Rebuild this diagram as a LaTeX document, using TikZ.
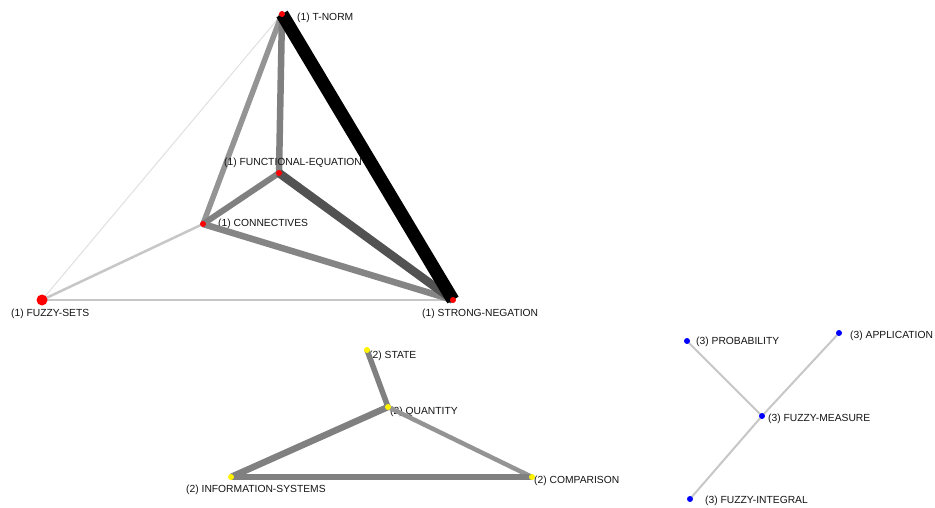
\documentclass[tikz,border=0pt]{standalone}
\usepackage{fontspec}
\setmainfont{Liberation Sans}
\begin{document}
\begin{tikzpicture}[x=1pt,y=-1pt,
  lbl/.style={anchor=west,inner sep=0pt,font=\fontsize{10.3}{11}\selectfont,text=black!92},
  dot/.style={circle,inner sep=0pt,minimum size=6pt},
  reddot/.style={dot,fill=red},
  yeldot/.style={dot,fill=yellow},
  bluedot/.style={dot,fill=blue},
  edge/.style={line cap=butt}
]
\useasboundingbox (0,0) rectangle (935,508);
\fill[white] (0,0) rectangle (935,508);
% labels
\node[lbl] (lTN) at (297,18) {(1) T-NORM};
\node[lbl] (lCO) at (218,224) {(1) CONNECTIVES};
\node[lbl] (lFS) at (11,314) {(1) FUZZY-SETS};
\node[lbl] (lSN) at (422,314) {(1) STRONG-NEGATION};
\node[lbl] (lST) at (369,356) {(2) STATE};
\node[lbl] (lQU) at (390,412) {(2) QUANTITY};
\node[lbl] (lIS) at (186,490) {(2) INFORMATION-SYSTEMS};
\node[lbl] (lCM) at (534,481) {(2) COMPARISON};
\node[lbl] (lPR) at (696,342) {(3) PROBABILITY};
\node[lbl] (lAP) at (850,336) {(3) APPLICATION};
\node[lbl] (lFM) at (768,419) {(3) FUZZY-MEASURE};
\node[lbl] (lFI) at (705,501) {(3) FUZZY-INTEGRAL};
% node positions
\coordinate (TN) at (282,14);
\coordinate (FE) at (279,173);
\coordinate (CO) at (203,224);
\coordinate (FS) at (42,300);
\coordinate (SN) at (453,300);
\coordinate (ST) at (367,350);
\coordinate (QU) at (388,407);
\coordinate (IS) at (231,477);
\coordinate (CM) at (532,477);
\coordinate (PR) at (687,341);
\coordinate (AP) at (839,333);
\coordinate (FM) at (762,416);
\coordinate (FI) at (690,499);
% edges group 1
\draw[edge,black!12,line width=1pt] (TN) -- (FS);
\draw[edge,black!22,line width=2.5pt] (CO) -- (FS);
\draw[edge,black!22,line width=2.5pt] (FS) -- (SN);
\draw[edge,black!42,line width=5.5pt] (TN) -- (CO);
\draw[edge,black!50,line width=6.5pt] (TN) -- (FE);
\draw[edge,black!50,line width=6pt] (FE) -- (CO);
\draw[edge,black!48,line width=6.5pt] (CO) -- (SN);
\draw[edge,black!68,line width=8.5pt] (FE) -- (SN);
\node[lbl] (lFE) at (224,163) {(1) FUNCTIONAL-EQUATION};
\draw[edge,black,line width=13pt] (TN) -- (SN);
% edges group 2
\draw[edge,black!50,line width=5.5pt] (ST) -- (QU);
\draw[edge,black!50,line width=6.5pt] (QU) -- (IS);
\draw[edge,black!42,line width=4.5pt] (QU) -- (CM);
\draw[edge,black!50,line width=6.5pt] (IS) -- (CM);
% edges group 3
\draw[edge,black!22,line width=2pt] (PR) -- (FM);
\draw[edge,black!22,line width=2pt] (AP) -- (FM);
\draw[edge,black!22,line width=2pt] (FM) -- (FI);
% dots
\node[reddot] (dTN) at (TN) {};
\node[reddot] (dFE) at (FE) {};
\node[reddot] (dCO) at (CO) {};
\node[reddot,minimum size=11pt] (dFS) at (FS) {};
\node[reddot] (dSN) at (SN) {};
\node[yeldot] (dST) at (ST) {};
\node[yeldot] (dQU) at (QU) {};
\node[yeldot] (dIS) at (IS) {};
\node[yeldot] (dCM) at (CM) {};
\node[bluedot] (dPR) at (PR) {};
\node[bluedot] (dAP) at (AP) {};
\node[bluedot] (dFM) at (FM) {};
\node[bluedot] (dFI) at (FI) {};
\end{tikzpicture}
\end{document}
